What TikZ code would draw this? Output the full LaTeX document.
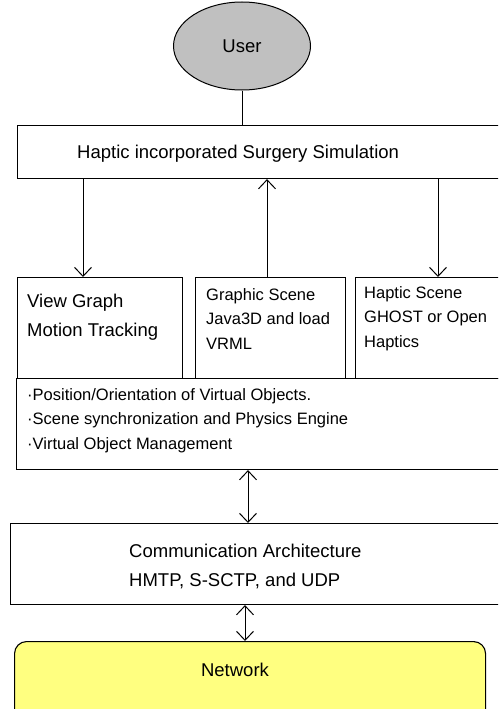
\documentclass[tikz,border=0pt]{standalone}
\usepackage{fontspec}
\setmainfont{Liberation Sans}
\usetikzlibrary{shapes.geometric,arrows.meta}
\definecolor{netyellow}{RGB}{255,255,128}
\definecolor{usergray}{RGB}{192,192,192}
\tikzset{
  box/.style={draw, fill=white, line width=1.1pt, anchor=north west, inner sep=0pt},
  txtbig/.style={anchor=north west, inner sep=0pt, align=left,
    font={\fontsize{18.5}{29}\selectfont}},
  txtsmall/.style={anchor=north west, inner sep=0pt, align=left,
    font={\fontsize{16.5}{24.5}\selectfont}},
  link/.style={line width=1pt},
  arr/.style={link, -{Straight Barb[length=9pt,width=17pt]}},
  darr/.style={link, {Straight Barb[length=9pt,width=17pt]}-{Straight Barb[length=9pt,width=17pt]}}
}
\begin{document}
\begin{tikzpicture}[x=1pt, y=-1pt]
  \useasboundingbox (0,0) rectangle (498,709);
  \clip (0,0) rectangle (498,709);

  % user
  \node[ellipse, draw, fill=usergray, line width=1pt, minimum width=137pt,
        minimum height=88pt, inner sep=0pt,
        font={\fontsize{18.5}{22}\selectfont}] (user) at (242,46) {User};

  % simulation layer
  \node[box, minimum width=495pt, minimum height=53pt] (sim) at (17,125) {};
  \node[txtbig] (simtxt) at (77,145) {Haptic incorporated Surgery Simulation};

  % three scene boxes
  \node[box, minimum width=165pt, minimum height=101pt] (view) at (17,277) {};
  \node[txtbig] (viewtxt) at (27,294) {View Graph\\Motion Tracking};
  \node[box, minimum width=150pt, minimum height=101pt] (graphic) at (195,277) {};
  \node[txtsmall] (graphictxt) at (206,288) {Graphic Scene\\Java3D and load\\VRML};
  \node[box, minimum width=157pt, minimum height=101pt] (haptic) at (355,277) {};
  \node[txtsmall] (haptictxt) at (364,286) {Haptic Scene\\GHOST or Open\\Haptics};

  % object management layer
  \node[box, minimum width=496pt, minimum height=91pt] (core) at (16,378) {};
  \node[txtsmall] (coretxt) at (27,388) {·Position/Orientation of Virtual Objects.\\
    ·Scene synchronization and Physics Engine\\·Virtual Object Management};

  % communication layer
  \node[box, minimum width=502pt, minimum height=81pt] (comm) at (10,523) {};
  \node[txtbig] (commtxt) at (129,544) {Communication Architecture\\HMTP, S-SCTP, and UDP};

  % network
  \node[box, fill=netyellow, rounded corners=12pt, minimum width=471pt,
        minimum height=80pt] (net) at (14,641) {};
  \node[font={\fontsize{18.5}{22}\selectfont}, inner sep=0pt] (nettxt) at (235,670) {Network};

  % connector positions
  \coordinate (c0) at (242,0);
  \coordinate (c1) at (83,0);
  \coordinate (c2) at (267,0);
  \coordinate (c3) at (438,0);
  \coordinate (c4) at (248,0);
  \coordinate (c5) at (245,0);

  \draw[link] (user.south) -- (sim.north -| c0);
  \draw[arr] (sim.south -| c1) -- (view.north -| c1);
  \draw[arr] (graphic.north -| c2) -- (sim.south -| c2);
  \draw[arr] (sim.south -| c3) -- (haptic.north -| c3);
  \draw[darr] (core.south -| c4) -- (comm.north -| c4);
  \draw[darr] (comm.south -| c5) -- (net.north -| c5);
\end{tikzpicture}
\end{document}
